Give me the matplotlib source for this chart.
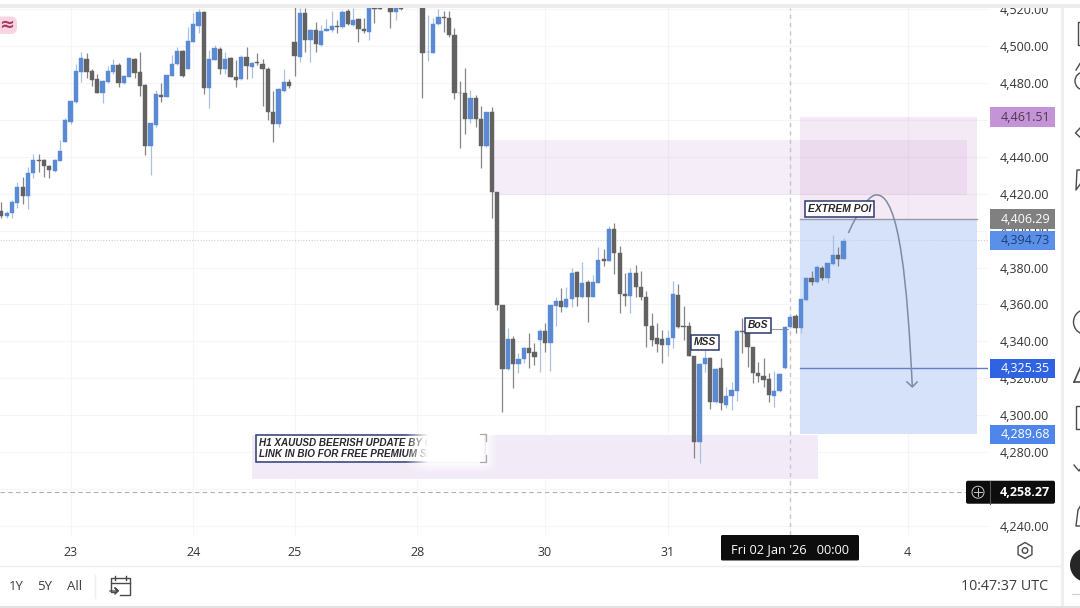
import numpy as np
import matplotlib
matplotlib.use('Agg')
import matplotlib.pyplot as plt
from matplotlib.patches import Rectangle, Circle, FancyBboxPatch, PathPatch, RegularPolygon
from matplotlib.path import Path

nan = np.nan

# XAUUSD H1 candles, one entry per bar; nan where the bar sits above the visible range
opens = [
    4410.6, 4407.9, 4409.3, 4415.1, 4423.4, 4418.9, 4431.0, 4438.2, 4438.2, 4435.0,
    4432.4, 4437.9, 4448.1, 4459.0, 4469.6, 4485.9, 4492.9, 4486.3, 4481.9, 4474.3,
    4480.7, 4485.9, 4489.7, 4479.7, 4483.4, 4493.1, 4485.7, 4478.8, 4446.0, 4457.4,
    4473.4, 4472.3, 4483.9, 4490.0, 4497.5, 4487.5, 4502.3, 4511.0, 4518.6, 4477.4,
    4492.4, 4498.4, 4487.5, 4493.3, 4483.0, 4481.9, 4494.2, 4488.8, 4491.1, 4490.0,
    4487.5, 4464.4, 4457.7, 4475.8, 4480.3, 4502.0, 4494.2, 4517.7, 4503.2, 4508.6,
    4500.5, 4508.3, 4508.6, 4511.0, 4510.1, 4518.9, 4511.4, 4514.4, 4509.4, 4507.7,
    4520.4, 4522.0, nan, 4525.0, 4518.2, 4522.0, nan, nan, nan, 4528.0,
    4496.5, 4496.4, 4511.7, 4515.9, 4515.3, 4505.8, 4474.7, 4474.3, 4460.2, 4471.8,
    4460.6, 4446.0, 4464.0, 4420.7, 4359.7, 4324.9, 4341.3, 4327.6, 4330.6, 4336.2,
    4334.1, 4340.8, 4345.6, 4339.3, 4359.3, 4362.1, 4358.4, 4363.0, 4377.4, 4363.9,
    4372.0, 4364.0, 4371.8, 4384.5, 4383.7, 4400.9, 4388.1, 4365.5, 4364.8, 4377.2,
    4369.6, 4364.2, 4348.3, 4341.7, 4341.1, 4338.2, 4341.7, 4365.3, 4348.3, 4348.3,
    4332.1, 4285.3, 4327.7, 4330.8, 4307.0, 4325.4, 4305.5, 4310.4, 4313.1, 4345.6,
    4345.2, 4337.1, 4322.7, 4321.4, 4319.6, 4310.6, 4313.1, 4325.4, 4347.6, 4353.7,
    4347.1, 4362.4, 4374.5, 4372.3, 4379.9, 4374.1, 4382.1, 4386.8, 4384.6,
]
closes = [
    4407.9, 4409.7, 4415.3, 4423.4, 4418.9, 4431.0, 4438.2, 4437.9, 4435.0, 4432.8,
    4438.2, 4443.3, 4459.9, 4470.2, 4486.3, 4493.3, 4486.1, 4481.6, 4474.7, 4481.0,
    4486.3, 4489.7, 4479.7, 4483.7, 4493.3, 4485.2, 4478.5, 4446.0, 4458.1, 4473.8,
    4472.3, 4484.1, 4490.2, 4497.3, 4483.7, 4502.7, 4511.9, 4518.6, 4477.4, 4492.8,
    4498.7, 4487.5, 4492.9, 4483.0, 4481.6, 4494.2, 4489.1, 4491.0, 4490.6, 4487.5,
    4464.4, 4457.7, 4476.5, 4480.3, 4478.5, 4494.6, 4517.7, 4503.2, 4508.6, 4500.9,
    4508.3, 4509.4, 4510.8, 4510.5, 4518.4, 4511.9, 4514.1, 4509.0, 4508.1, 4520.4,
    4520.0, 4520.2, nan, 4518.6, 4525.0, 4520.3, nan, nan, nan, 4496.4,
    4496.9, 4511.7, 4515.9, 4515.3, 4505.8, 4474.3, 4474.3, 4460.2, 4471.8, 4460.2,
    4446.0, 4464.0, 4420.7, 4359.6, 4324.9, 4341.3, 4327.7, 4330.6, 4336.6, 4333.9,
    4331.7, 4345.8, 4339.3, 4359.7, 4362.1, 4358.4, 4362.8, 4377.2, 4363.9, 4371.8,
    4364.2, 4372.0, 4384.1, 4383.6, 4401.1, 4387.7, 4365.5, 4364.8, 4377.2, 4369.6,
    4363.9, 4348.3, 4340.8, 4338.6, 4338.2, 4342.0, 4365.7, 4347.8, 4347.8, 4332.1,
    4285.7, 4327.7, 4330.8, 4307.3, 4325.0, 4306.4, 4310.6, 4313.6, 4345.6, 4345.2,
    4336.8, 4322.7, 4321.2, 4319.1, 4310.9, 4313.1, 4322.1, 4348.0, 4353.4, 4347.1,
    4362.8, 4374.5, 4372.3, 4380.1, 4374.1, 4382.6, 4386.8, 4384.6, 4394.4,
]
highs = [
    4415.6, 4410.8, 4416.5, 4426.5, 4429.2, 4434.6, 4441.5, 4441.5, 4438.6, 4435.5,
    4438.6, 4449.0, 4460.8, 4470.2, 4490.0, 4496.9, 4496.0, 4487.5, 4484.8, 4481.6,
    4489.1, 4492.8, 4490.6, 4484.3, 4493.3, 4493.3, 4496.9, 4479.4, 4458.4, 4476.1,
    4479.7, 4484.4, 4495.1, 4499.3, 4497.8, 4510.5, 4517.7, 4519.8, 4519.0, 4497.8,
    4500.5, 4499.6, 4496.9, 4494.2, 4492.4, 4495.1, 4499.6, 4491.5, 4496.0, 4492.8,
    4488.8, 4475.8, 4477.0, 4487.3, 4481.9, 4523.1, 4520.4, 4520.4, 4509.0, 4513.2,
    4511.4, 4514.4, 4519.1, 4514.1, 4519.5, 4519.8, 4520.4, 4515.0, 4515.0, 4523.1,
    4523.0, 4524.0, nan, 4528.0, 4528.0, 4524.0, nan, nan, nan, 4531.0,
    4516.8, 4515.0, 4519.8, 4519.1, 4518.9, 4509.9, 4481.0, 4487.9, 4476.1, 4473.4,
    4467.5, 4464.4, 4467.1, 4421.0, 4359.7, 4347.1, 4342.9, 4333.9, 4337.1, 4344.4,
    4339.3, 4346.5, 4350.1, 4359.7, 4364.2, 4368.7, 4369.3, 4379.6, 4378.1, 4383.2,
    4373.3, 4376.0, 4391.3, 4389.9, 4402.5, 4404.0, 4391.9, 4376.9, 4379.6, 4381.4,
    4378.3, 4367.5, 4355.2, 4350.1, 4346.2, 4346.2, 4372.9, 4371.1, 4359.4, 4350.7,
    4332.1, 4328.1, 4335.3, 4331.7, 4325.4, 4330.8, 4315.4, 4318.2, 4346.1, 4352.5,
    4352.5, 4337.1, 4329.0, 4331.2, 4322.7, 4323.9, 4323.0, 4348.3, 4354.8, 4354.8,
    4363.1, 4374.7, 4378.1, 4381.4, 4380.8, 4382.6, 4397.6, 4391.3, 4396.2,
]
lows = [
    4406.6, 4406.6, 4406.6, 4412.0, 4414.4, 4411.5, 4428.3, 4431.9, 4428.8, 4428.6,
    4431.9, 4437.5, 4448.1, 4457.7, 4469.3, 4480.7, 4482.5, 4478.3, 4474.3, 4469.3,
    4479.7, 4484.8, 4477.6, 4479.4, 4483.0, 4482.8, 4472.9, 4440.9, 4430.1, 4456.3,
    4469.6, 4472.2, 4483.7, 4489.7, 4483.4, 4487.5, 4502.3, 4507.2, 4473.8, 4466.2,
    4492.4, 4484.8, 4484.8, 4483.0, 4477.6, 4481.6, 4481.9, 4482.8, 4489.7, 4467.5,
    4459.9, 4447.8, 4455.9, 4475.2, 4477.0, 4483.9, 4491.5, 4496.9, 4491.5, 4496.9,
    4500.2, 4508.3, 4507.7, 4506.8, 4509.5, 4511.4, 4510.8, 4502.3, 4506.8, 4503.2,
    4512.3, 4519.8, nan, 4509.5, 4514.1, 4519.5, nan, nan, nan, 4472.0,
    4492.0, 4496.0, 4511.4, 4507.7, 4504.7, 4471.1, 4444.9, 4452.1, 4458.4, 4456.3,
    4433.7, 4445.4, 4407.0, 4356.9, 4301.9, 4324.5, 4314.6, 4322.7, 4328.1, 4325.8,
    4327.2, 4323.2, 4334.4, 4324.1, 4348.3, 4356.1, 4357.9, 4358.4, 4359.2, 4363.3,
    4350.3, 4363.9, 4371.4, 4381.0, 4383.4, 4376.5, 4355.2, 4359.2, 4355.2, 4363.9,
    4362.4, 4336.8, 4337.7, 4334.4, 4328.1, 4332.3, 4336.2, 4347.1, 4340.8, 4332.1,
    4276.6, 4273.9, 4323.6, 4303.2, 4306.4, 4302.8, 4303.7, 4302.8, 4307.7, 4333.5,
    4326.3, 4317.3, 4318.2, 4315.4, 4307.3, 4304.3, 4312.7, 4325.0, 4347.1, 4344.3,
    4344.3, 4362.0, 4370.5, 4371.4, 4373.2, 4371.4, 4381.4, 4381.0, 4384.4,
]

price_ticks = [4240, 4260, 4280, 4300, 4320, 4340, 4360, 4380, 4400, 4420, 4440, 4460, 4480, 4500, 4520]
# these two levels sit fully behind their price tags
hidden_ticks = [4260, 4460]
day_ticks = [13, 36, 55, 78, 102, 125, 148, 170]
day_labels = ['23', '24', '25', '28', '30', '31', '', '4']

# levels of the position tool and the crosshair
entry_price = 4406.29
stop_price = 4461.51
target_price = 4289.68
tp_line_price = 4325.35
last_price = 4394.73
cross_price = 4258.27
cross_bar = 148

upper_zone = (92.4, 181.2, 4419.3, 4449.1)
lower_zone = (47.0, 153.2, 4265.4, 4289.3)
tool_left, tool_right = 149.8, 183.0

BLUE = '#5b8ad4'
BLUE_WICK = '#a9c0e4'
DARK = '#626262'
DARK_WICK = '#858585'
NAVY = '#2c3a72'
FONT = 'Open Sans'

plt.rcParams['font.family'] = FONT

W, H = 1080, 608
fig = plt.figure(figsize=(W / 100, H / 100), dpi=100, facecolor='white')
ax = fig.add_axes([0, (H - 535) / H, 988 / W, (535 - 8) / H])
ax.set_xlim(-0.25, 185.1)
ax.set_ylim(4235.1, 4520.6)
for s in ax.spines.values():
    s.set_visible(False)

ax.set_yticks(price_ticks)
ax.set_yticklabels(['' if p in hidden_ticks else f'{p:,.2f}' for p in price_ticks])
ax.yaxis.tick_right()
ax.tick_params(axis='y', length=0, pad=8.6, labelsize=9, labelcolor='#353535')
ax.set_xticks(day_ticks)
ax.set_xticklabels(day_labels)
ax.tick_params(axis='x', length=0, pad=8, labelsize=9, labelcolor='#353535')
ax.grid(True, color='#f5f5f6', lw=0.8, zorder=0)
ax.set_axisbelow(True)

# supply and demand zones
ax.add_patch(Rectangle((upper_zone[0], upper_zone[2]), upper_zone[1] - upper_zone[0],
                       upper_zone[3] - upper_zone[2], fc='#a860b8', alpha=0.11, ec='none', zorder=1))
ax.add_patch(Rectangle((lower_zone[0], lower_zone[2]), lower_zone[1] - lower_zone[0],
                       lower_zone[3] - lower_zone[2], fc='#f2ebf7', ec='none', zorder=1))

# short position tool
ax.add_patch(Rectangle((tool_left, entry_price), tool_right - tool_left, stop_price - entry_price,
                       fc='#b060b8', alpha=0.13, ec='none', zorder=1))
ax.add_patch(Rectangle((tool_left, target_price), tool_right - tool_left, entry_price - target_price,
                       fc='#d5e2f9', ec='none', zorder=1))
ax.plot([tool_left, tool_right], [entry_price, entry_price], color='#9a9aa6', lw=1, zorder=2)
ax.plot([tool_left, 185.1], [tp_line_price, tp_line_price], color='#6180c4', lw=1, zorder=2)

# last price and crosshair lines
ax.axhline(last_price, color='#c3d0e8', lw=0.8, ls=(0, (1, 1.5)), zorder=2)
ax.plot([-0.25, 181], [cross_price, cross_price], color='#b0b0b0', lw=0.8, ls=(0, (4, 3)), zorder=2)
ax.axvline(cross_bar, color='#c6c6c6', lw=1, ls=(0, (3, 3)), zorder=2)

# candles
o = np.array(opens)
c = np.array(closes)
h = np.array(highs)
l = np.array(lows)
idx = np.arange(len(o))
up = c >= o
ax.vlines(idx[up], l[up], h[up], color=BLUE_WICK, lw=0.9, zorder=3)
ax.vlines(idx[~up], l[~up], h[~up], color=DARK_WICK, lw=0.9, zorder=3)
body_bottom = np.minimum(o, c)
body_height = np.abs(c - o)
ax.bar(idx[up], body_height[up], bottom=body_bottom[up], width=0.8, color=BLUE,
       edgecolor=BLUE, linewidth=0.3, zorder=4)
ax.bar(idx[~up], body_height[~up], bottom=body_bottom[~up], width=0.8, color=DARK,
       edgecolor=DARK, linewidth=0.3, zorder=4)

# projected move
arc = Path([(158.9, 4398.7), (161.0, 4412.0), (163.0, 4420.0), (164.3, 4419.3),
            (168.5, 4419.0), (170.0, 4370.0), (170.9, 4315.3)],
           [Path.MOVETO, Path.CURVE4, Path.CURVE4, Path.CURVE4, Path.CURVE4, Path.CURVE4, Path.CURVE4])
ax.add_patch(PathPatch(arc, fc='none', ec='#7f8b9e', lw=1.1, zorder=5))
ax.plot([169.9, 170.9, 171.8], [4318.0, 4315.3, 4318.0], color='#7f8b9e', lw=1.1, zorder=5)


def note(x, y, text):
    ax.text(x, y, text, ha='center', va='center', fontsize=7.4, style='italic', weight='bold',
            family='Liberation Sans', color='#26262c', zorder=6,
            bbox=dict(boxstyle='square,pad=0.26', fc='white', ec=NAVY, lw=1.1))


note(132, 4339.4, 'MSS')
note(142, 4348.6, 'BoS')
note(157.2, 4411.7, 'EXTREM POI')
ax.plot([144.6, 147.5], [4346.5, 4346.5], color='#9c9c9c', lw=0.8, zorder=3)

# banner text in the lower zone
ax.add_patch(Rectangle((47.8, 4274.6), 42.9, 14.7, fc='white', ec=NAVY, lw=1.1, zorder=5))
ax.text(48.3, 4285.2, 'H1 XAUUSD BEERISH UPDATE BY C', fontsize=7.1, style='italic', weight='bold',
        family='Liberation Sans', color='#26262c', va='center', zorder=6)
ax.text(48.3, 4279.0, 'LINK IN BIO FOR FREE PREMIUM SF', fontsize=7.1, style='italic', weight='bold',
        family='Liberation Sans', color='#26262c', va='center', zorder=6)

# interface chrome on a pixel overlay
ui = fig.add_axes([0, 0, 1, 1], facecolor='none')
ui.set_xlim(0, W)
ui.set_ylim(H, 0)
ui.axis('off')

fig.canvas.draw()


def price_y(price):
    return H - ax.transData.transform((0, price))[1]


# white smear fading over the banner
xs = np.linspace(405, 498, 186)
ys = np.linspace(429, 473, 88)
ramp_x = np.clip((xs - 405) / 23, 0, 1) * np.clip((498 - xs) / 14, 0, 1)
ramp_y = np.clip((473 - ys) / 11, 0, 1) * np.clip((ys - 429) / 3, 0, 1)
smear = np.ones((len(ys), len(xs), 4))
smear[..., 3] = np.outer(ramp_y, ramp_x)
ui.imshow(smear, extent=(405, 498, 473, 429), aspect='auto', zorder=1, interpolation='bilinear')
ui.set_xlim(0, W)
ui.set_ylim(H, 0)
ui.plot([480, 485.5, 485.5], [434, 434, 441], color='#a9a9a9', lw=0.9, zorder=2)
ui.plot([480, 485.5, 485.5], [462, 462, 455], color='#a9a9a9', lw=0.9, zorder=2)

# top bar and right hand panel
ui.add_patch(Rectangle((0, 0), W, 8, fc='white', ec='none', zorder=2))
ui.add_patch(Rectangle((0, 3.5), W, 4.5, fc='#ececec', ec='none', zorder=3))
ui.add_patch(Rectangle((1061, 8), 3, H - 8, fc='#efefef', ec='none', zorder=3))
ui.plot([0, 1061], [566, 566], color='#eeeeee', lw=1, zorder=3)
ui.plot([0, W], [607, 607], color='#dddddd', lw=1.2, zorder=3)

# indicator badge
ui.add_patch(FancyBboxPatch((-8, 16.5), 25, 17.5, boxstyle='round,pad=0,rounding_size=6',
                            fc='#f9d5e3', ec='none', zorder=3))
ui.text(6.5, 25, '\u2248', fontsize=13, weight='bold', color='#a83a66', ha='center', va='center',
        zorder=4, family='DejaVu Sans')


def price_tag(price, bg, fg, weight='normal'):
    y = price_y(price)
    ui.add_patch(Rectangle((990, y - 9.7), 65, 19.4, fc=bg, ec='none', zorder=4))
    ui.text(1050, y, f'{price:,.2f}', color=fg, fontsize=9, ha='right', va='center', zorder=5,
            weight=weight)


price_tag(stop_price, '#c594d6', '#4d3a55')
price_tag(entry_price, '#808080', 'white')
price_tag(last_price, '#5b90ea', '#1f3f70')
price_tag(tp_line_price, '#2f63e2', 'white')
price_tag(target_price, '#4f86ec', 'white')

# crosshair price tag with the plus button
y = price_y(cross_price)
ui.add_patch(FancyBboxPatch((966, y - 11.5), 89, 23, boxstyle='round,pad=0,rounding_size=2',
                            fc='#0d0d0d', ec='none', zorder=4))
ui.plot([990, 990], [y - 11.5, y + 11.5], color='#555555', lw=0.8, zorder=5)
ui.add_patch(Circle((978, y), 6, fc='none', ec='#c8c8c8', lw=0.7, zorder=5))
ui.plot([974, 982], [y, y], color='#c8c8c8', lw=0.7, zorder=5)
ui.plot([978, 978], [y - 4, y + 4], color='#c8c8c8', lw=0.7, zorder=5)
ui.text(1050, y, f'{cross_price:,.2f}', color='white', fontsize=9, weight='bold', ha='right',
        va='center', zorder=5)

# crosshair time tag
ui.add_patch(FancyBboxPatch((721, 535), 138, 25.5, boxstyle='round,pad=0,rounding_size=1.5',
                            fc='#0d0d0d', ec='none', zorder=4))
ui.text(790, 550, "Fri 02 Jan '26   00:00", color='white', fontsize=9.2, ha='center', va='center',
        zorder=5)

# bottom toolbar
for label, x in [('1Y', 16), ('5Y', 45), ('All', 75)]:
    ui.text(x, 586.5, label, fontsize=9.5, color='#3d3d3d', ha='center', va='center', zorder=4)
ui.plot([95, 95], [575, 598], color='#eeeeee', lw=1, zorder=3)
ui.text(1005, 586.5, '10:47:37 UTC', fontsize=10.3, color='#3d3d3d', ha='center', va='center', zorder=4)

ICON = '#4a4a4a'
# go-to-date icon
ui.plot([116, 111, 111, 130, 130, 120], [592, 592, 578, 578, 595, 595], color=ICON, lw=1, zorder=4)
ui.plot([111, 130], [583, 583], color=ICON, lw=1, zorder=4)
ui.plot([115, 115], [576, 580], color=ICON, lw=1, zorder=4)
ui.plot([126, 126], [576, 580], color=ICON, lw=1, zorder=4)
ui.plot([110, 118, 115, 118, 115], [591, 591, 588, 591, 594], color=ICON, lw=1, zorder=4)

# settings icon under the price scale
ui.add_patch(RegularPolygon((1025, 550.5), 6, radius=8, fc='none', ec=ICON, lw=1, zorder=4))
ui.add_patch(Circle((1025, 550.5), 2.8, fc='none', ec=ICON, lw=1, zorder=4))

# clipped toolbar icons at the right edge
ui.plot([1081, 1077.5, 1077.5, 1081], [22, 22, 45, 45], color=ICON, lw=1, zorder=4)
ui.add_patch(Circle((1084, 81), 9, fc='none', ec=ICON, lw=1, zorder=4))
ui.plot([1076, 1081], [70, 62], color=ICON, lw=1, zorder=4)
ui.plot([1081, 1075.5, 1081], [127, 133, 138], color=ICON, lw=1, zorder=4)
ui.plot([1081, 1077, 1076, 1081], [170, 170, 190, 183], color=ICON, lw=1, zorder=4)
ui.add_patch(Circle((1086, 322), 12.5, fc='none', ec=ICON, lw=1, zorder=4))
ui.plot([1074, 1081], [382, 366], color=ICON, lw=1.2, zorder=4)
ui.plot([1074, 1081], [382, 382], color=ICON, lw=1.2, zorder=4)
ui.plot([1081, 1076, 1076, 1081], [406, 406, 429, 429], color=ICON, lw=1, zorder=4)
ui.plot([1074, 1079, 1081], [465, 471, 468], color=ICON, lw=1, zorder=4)
ui.plot([1081, 1078, 1076, 1081], [505, 510, 526, 526], color=ICON, lw=1, zorder=4)
ui.add_patch(Circle((1087, 565), 17, fc='#262626', ec='none', zorder=4))
ui.plot([1072, 1080], [594, 594], color='#cfcfcf', lw=0.8, zorder=4)

fig.savefig('out.png', dpi=100, facecolor='white')
